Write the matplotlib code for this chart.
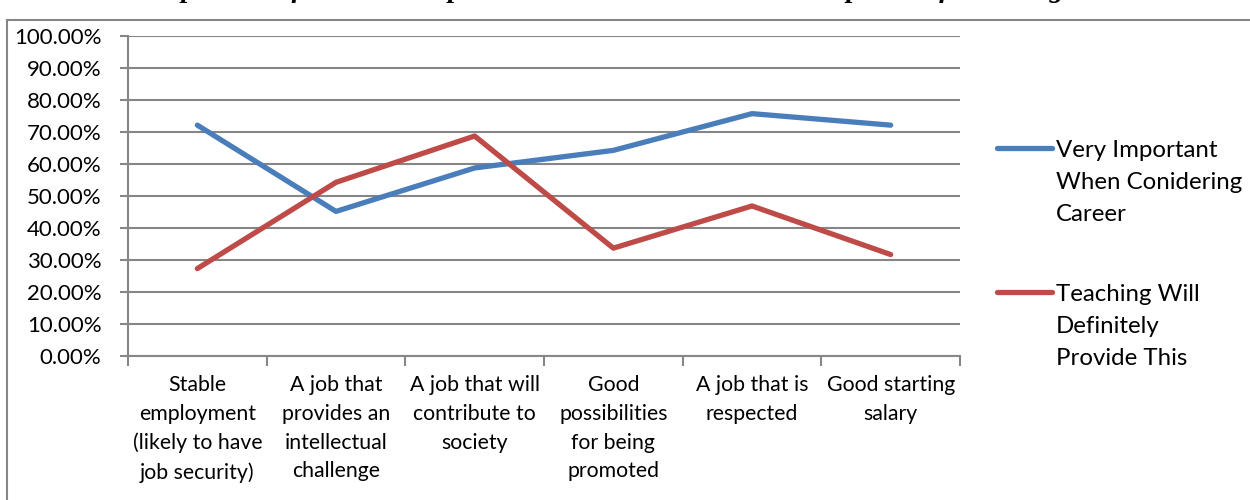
import matplotlib.pyplot as plt
from matplotlib.lines import Line2D
from matplotlib.patches import Rectangle
from matplotlib.ticker import FuncFormatter, MultipleLocator

categories = [
    "Stable\nemployment\n(likely to have\njob security)",
    "A job that\nprovides an\nintellectual\nchallenge",
    "A job that will\ncontribute to\nsociety",
    "Good\npossibilities\nfor being\npromoted",
    "A job that is\nrespected",
    "Good starting\nsalary",
]
very_important = [72.1, 45.1, 58.7, 64.2, 75.7, 72.1]
teaching_provides = [27.2, 54.2, 68.7, 33.6, 46.8, 31.6]
series_names = [
    "Very Important\nWhen Conidering\nCareer",
    "Teaching Will\nDefinitely\nProvide This",
]
title = ("Chart 4: Comparison of Student Responses \u2013 "
         "Career Values and Perceptions of Teaching")

BLUE = "#4A7EBB"
RED = "#BE4B48"
GRID = "#868686"
FONT = "Lato"

plt.rcParams['font.family'] = [FONT, 'DejaVu Sans']

fig = plt.figure(figsize=(12.5, 5), dpi=100)
ax = fig.add_axes([128 / 1250, 1 - 355.5 / 500, 832 / 1250, 319.5 / 500])

x = range(len(categories))
ax.plot(x, very_important, color=BLUE, lw=3.8, solid_capstyle='round',
        solid_joinstyle='round')
ax.plot(x, teaching_provides, color=RED, lw=3.8, solid_capstyle='round',
        solid_joinstyle='round')

ax.set_xlim(-0.5, len(categories) - 0.5)
ax.set_ylim(0, 100)
ax.yaxis.set_major_locator(MultipleLocator(10))
ax.yaxis.set_major_formatter(FuncFormatter(lambda v, p: '{:.2f}%'.format(v)))
ax.grid(axis='y', color=GRID, lw=1.5)
ax.set_axisbelow(True)

ax.set_xticks(list(x))
ax.set_xticklabels(categories, fontsize=15.3, linespacing=1.55)
ax.set_xticks([i - 0.5 for i in range(len(categories) + 1)], minor=True)
ax.tick_params(axis='x', which='major', length=0, pad=14)
ax.tick_params(axis='x', which='minor', length=7, color=GRID, width=1.5)
ax.tick_params(axis='y', length=6, color=GRID, width=1.5, labelsize=16, pad=13)

for side in ['top', 'right']:
    ax.spines[side].set_visible(False)
for side in ['left', 'bottom']:
    ax.spines[side].set_color(GRID)
    ax.spines[side].set_linewidth(1.5)

# legend drawn by hand so the line sits by the first text line
for i, (name, col) in enumerate(zip(series_names, [BLUE, RED])):
    yy = 148 + i * 144
    fig.add_artist(Line2D([997 / 1250, 1052 / 1250], [1 - yy / 500] * 2,
                          color=col, lw=3.8, solid_capstyle='round'))
    fig.text(1056 / 1250, 1 - (yy - 8) / 500, name, fontsize=17.3,
             va='top', ha='left', linespacing=1.64)

# outer chart border
fig.add_artist(Rectangle((7 / 1250, -0.1), 1.2, 1 - 20 / 500 + 0.1,
                         fill=False, edgecolor=GRID, lw=1.5,
                         transform=fig.transFigure))

# caption sits above the chart and is cut off by the top edge
fig.text(20 / 1250, 1 + 3 / 500, title, fontsize=20.5,
         family='Liberation Serif', weight='bold', style='italic',
         va='baseline', ha='left')

fig.savefig('out.png', dpi=100)
